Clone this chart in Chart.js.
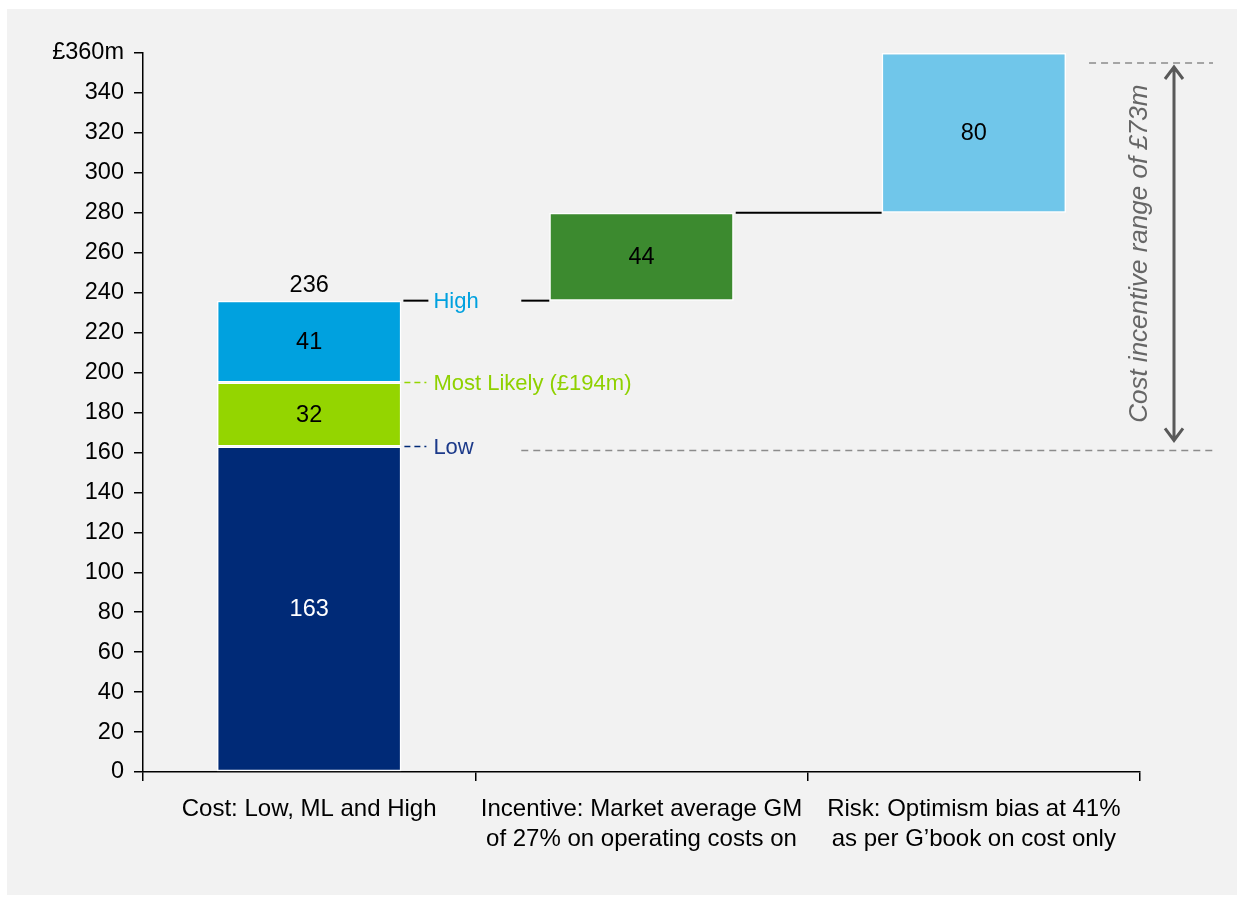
<!DOCTYPE html>
<html>
<head>
<meta charset="utf-8">
<script src="https://cdn.jsdelivr.net/npm/chart.js@4.4.0/dist/chart.umd.min.js"></script>
<style>
html,body{margin:0;padding:0;background:#fff;}
#panel{position:absolute;left:7px;top:9px;width:1230px;height:886px;background:#f2f2f2;}
#c{position:absolute;left:0;top:0;}
</style>
</head>
<body>
<div id="panel"></div>
<canvas id="c" width="1244" height="904"></canvas>
<script>
// categories on the x axis (two-line labels)
var categories = [
      ["Cost: Low, ML and High"],
      ["Incentive: Market average GM", "of 27% on operating costs on"],
      ["Risk: Optimism bias at 41%", "as per G\u2019book on cost only"]
];

// waterfall steps, in £m
var segmentNames    = ["Low", "Most Likely", "High", "Incentive", "Risk"];
var segmentValues   = [163, 32, 41, 44, 80];
var segmentCategory = [0, 0, 0, 1, 2];
var segmentColors   = ["#002a77", "#94d500", "#00a1df", "#3c8a2f", "#70c6ea"];

// y axis
var yMax = 360;
var yStep = 20;

// range markers (dashed lines and arrow ends), in £m
var rangeLow = 161;
var rangeHigh = 355;
var rangeText = "Cost incentive range of \u00a373m";
var mostLikelyText = "Most Likely (\u00a3194m)";

var FONT = '"Liberation Sans", Arial, sans-serif';

// build floating bars from the steps
var datasets = [];
var running = 0;
for (var i = 0; i < segmentValues.length; i++) {
      var d = [null, null, null];
      d[segmentCategory[i]] = [running, running + segmentValues[i]];
      running += segmentValues[i];
      datasets.push({
            label: segmentNames[i],
            data: d,
            backgroundColor: segmentColors[i],
            borderColor: "#ffffff",
            borderWidth: 1.5,
            borderSkipped: false,
            categoryPercentage: 1,
            barPercentage: 0.555
      });
}

function dashLine(ctx, x1, y1, x2, y2, color, dash, w) {
      ctx.save();
      ctx.strokeStyle = color;
      ctx.lineWidth = w;
      ctx.setLineDash(dash);
      ctx.beginPath();
      ctx.moveTo(x1, y1);
      ctx.lineTo(x2, y2);
      ctx.stroke();
      ctx.restore();
}

var annotate = {
      id: "annotate",
      afterDatasetsDraw: function(chart) {
            var ctx = chart.ctx;
            var ys = chart.scales.y;
            var area = chart.chartArea;
            var bars = [];
            for (var i = 0; i < segmentValues.length; i++) {
                  bars.push(chart.getDatasetMeta(i).data[segmentCategory[i]]);
            }

            // values inside bars
            ctx.save();
            ctx.font = "23.5px " + FONT;
            ctx.textAlign = "center";
            ctx.textBaseline = "middle";
            bars.forEach(function(b, i) {
                  ctx.fillStyle = i === 0 ? "#ffffff" : "#000000";
                  ctx.fillText(String(segmentValues[i]), b.x, (b.y + b.base) / 2 + 1);
            });

            // total above first bar
            var costTotal = segmentValues[0] + segmentValues[1] + segmentValues[2];
            ctx.fillStyle = "#000";
            ctx.fillText(String(costTotal), bars[2].x, bars[2].y - 15);
            ctx.restore();

            var r1 = bars[0].x + bars[0].width / 2;
            var l2 = bars[3].x - bars[3].width / 2;
            var r2 = bars[3].x + bars[3].width / 2;
            var l3 = bars[4].x - bars[4].width / 2;
            var r3 = bars[4].x + bars[4].width / 2;

            var yHigh = ys.getPixelForValue(costTotal);
            var yMl = ys.getPixelForValue(segmentValues[0] + segmentValues[1]);
            var yLow = ys.getPixelForValue(segmentValues[0]);
            var yInc = ys.getPixelForValue(costTotal + segmentValues[3]);

            // High
            dashLine(ctx, r1 + 2, yHigh, r1 + 27, yHigh, "#000", [], 2);
            dashLine(ctx, l2 - 28, yHigh, l2, yHigh, "#000", [], 2);
            // Most likely
            dashLine(ctx, r1 + 3, yMl, r1 + 25, yMl, "#94d500", [6, 4], 1.5);
            // Low
            dashLine(ctx, r1 + 3, yLow, r1 + 25, yLow, "#002a77", [6, 4], 1.5);
            // incentive -> risk connector
            dashLine(ctx, r2 + 2, yInc, l3, yInc, "#000", [], 2);

            ctx.save();
            ctx.font = "22px " + FONT;
            ctx.textAlign = "left";
            ctx.textBaseline = "middle";
            ctx.fillStyle = "#00a1df";
            ctx.fillText("High", r1 + 32, yHigh + 1);
            ctx.fillStyle = "#8fd100";
            ctx.fillText(mostLikelyText, r1 + 32, yMl + 1);
            ctx.fillStyle = "#1c3a8a";
            ctx.fillText("Low", r1 + 32, yLow + 1);
            ctx.restore();

            // range dashed lines
            var yRL = ys.getPixelForValue(rangeLow);
            var yRH = ys.getPixelForValue(rangeHigh);
            dashLine(ctx, l2 - 28, yRL, area.right + 75, yRL, "#8c8c8c", [7, 5], 1.5);
            dashLine(ctx, r3 + 23, yRH, area.right + 73, yRH, "#8c8c8c", [7, 5], 1.5);

            // double arrow
            var ax = area.right + 34;
            var top = yRH + 4, bot = yRL - 10;
            ctx.save();
            ctx.strokeStyle = "#595959";
            ctx.lineWidth = 3;
            ctx.beginPath();
            ctx.moveTo(ax, top);
            ctx.lineTo(ax, bot);
            ctx.moveTo(ax - 9, top + 12);
            ctx.lineTo(ax, top);
            ctx.lineTo(ax + 9, top + 12);
            ctx.moveTo(ax - 9, bot - 12);
            ctx.lineTo(ax, bot);
            ctx.lineTo(ax + 9, bot - 12);
            ctx.stroke();

            // rotated range text
            ctx.translate(area.right, (top + bot) / 2);
            ctx.rotate(-Math.PI / 2);
            ctx.font = "italic 26px " + FONT;
            ctx.fillStyle = "#666666";
            ctx.textAlign = "center";
            ctx.textBaseline = "middle";
            ctx.fillText(rangeText, 0, 0);
            ctx.restore();
      }
};

var ctx1 = document.getElementById("c");

var costChart = new Chart(ctx1, {
      type: "bar",
      data: {
            labels: categories,
            datasets: datasets
      },
      options: {
            responsive: false,
            animation: false,
            layout: { padding: { top: 53, right: 104, bottom: 0, left: 0 } },
            plugins: {
                  legend: { display: false },
                  tooltip: { enabled: false }
            },
            scales: {
                  x: {
                        stacked: true,
                        grid: { drawOnChartArea: false, offset: true, tickLength: 9, color: "#000", lineWidth: 1.5 },
                        border: { color: "#000", width: 1.5 },
                        ticks: {
                              color: "#000",
                              padding: 13,
                              maxRotation: 0,
                              autoSkip: false,
                              font: { size: 24, family: FONT, lineHeight: 1.25 }
                        },
                        afterFit: function(s) { s.height = 132; }
                  },
                  y: {
                        min: 0,
                        max: yMax,
                        grid: { drawOnChartArea: false, tickLength: 9, color: "#000", lineWidth: 1.5 },
                        border: { color: "#000", width: 1.5 },
                        ticks: {
                              stepSize: yStep,
                              color: "#000",
                              padding: 10,
                              font: { size: 23.5, family: FONT },
                              callback: function(v) { return v === yMax ? "\u00a3" + v + "m" : v; }
                        },
                        afterFit: function(s) { s.width = 143; }
                  }
            }
      },
      plugins: [annotate]
});
</script>
</body>
</html>
